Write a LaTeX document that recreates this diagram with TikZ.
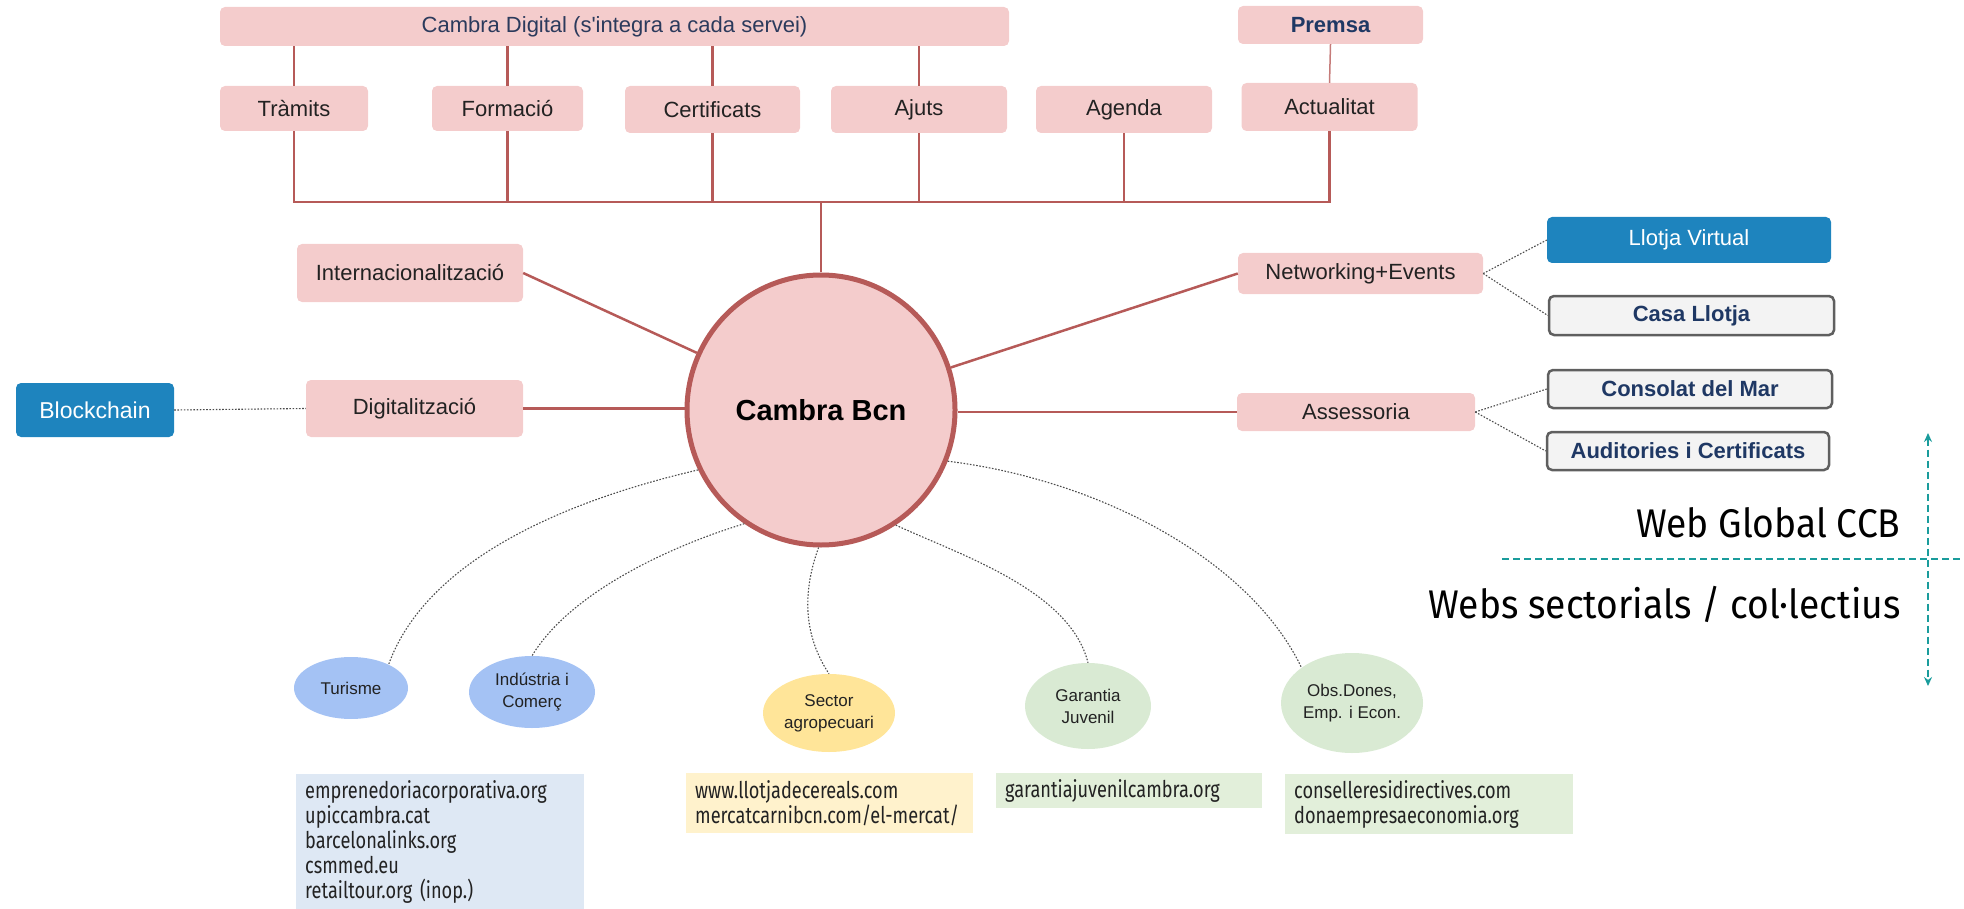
\documentclass[tikz,border=0pt]{standalone}
\usepackage{fontspec}
\setmainfont{Liberation Sans}
\newfontfamily\linkfont{Fira Sans}[FakeStretch=0.79]
\newfontfamily\splitfont{Fira Sans}[FakeStretch=0.93]
\usetikzlibrary{arrows.meta,shapes.geometric}

\definecolor{boxpink}{HTML}{F4CCCC}
\definecolor{linkred}{HTML}{B65A58}
\definecolor{llotjablue}{HTML}{1E84BE}
\definecolor{greyfill}{HTML}{F3F3F3}
\definecolor{greyedge}{HTML}{5F5F5F}
\definecolor{navytext}{HTML}{1F3864}
\definecolor{slatetext}{HTML}{2B3A5C}
\definecolor{textdark}{HTML}{222222}
\definecolor{sectblue}{HTML}{A4C2F4}
\definecolor{sectyellow}{HTML}{FFE599}
\definecolor{sectgreen}{HTML}{D9EAD3}
\definecolor{webblue}{HTML}{DEE8F4}
\definecolor{webyellow}{HTML}{FFF2CC}
\definecolor{webgreen}{HTML}{E2EFDA}
\definecolor{teal}{HTML}{1A9C9C}

\begin{document}
\begin{tikzpicture}[x=1pt, y=-1pt, >=Stealth,
  every node/.style={font=\fontsize{22}{26}\selectfont, text=textdark},
  svc/.style={rectangle, rounded corners=5pt, fill=boxpink, inner sep=0pt},
  bluebox/.style={rectangle, rounded corners=5pt, fill=llotjablue, text=white, inner sep=0pt},
  greybox/.style={rectangle, rounded corners=5pt, fill=greyfill, draw=greyedge,
    line width=2.5pt, text=navytext, font=\bfseries\fontsize{22}{26}\selectfont, inner sep=0pt},
  sector/.style={ellipse, inner sep=0pt, align=center, font=\fontsize{17}{22}\selectfont},
  weblist/.style={rectangle, anchor=north west, align=left, inner xsep=9pt, inner ysep=6pt,
    text=textdark, font=\linkfont\fontsize{23}{25}\selectfont},
  branch/.style={draw=linkred, line width=2.5pt},
  dots/.style={draw=black!70, line width=1.1pt, dash pattern=on 1.6pt off 1.6pt},
  split/.style={draw=teal, line width=2.5pt, dash pattern=on 7pt off 4pt}]

  \useasboundingbox (0,0) rectangle (1964,909);

  % Cambra Digital and the services row
  \node[svc, minimum width=789pt, minimum height=39pt, text=slatetext] (cd) at (614.5,26.5)
    {Cambra Digital (s\textquotesingle integra a cada servei)};
  \node[svc, minimum width=185pt, minimum height=38pt, text=navytext, font=\bfseries\fontsize{22}{26}\selectfont]
    (premsa) at (1330.5,25) {Premsa};
  \node[svc, minimum width=148pt, minimum height=45pt] (tramits) at (294,108.5) {Tràmits};
  \node[svc, minimum width=151pt, minimum height=45pt] (formacio) at (507.5,108.5) {Formació};
  \node[svc, minimum width=175pt, minimum height=47pt] (certif) at (712.5,109.5) {Certificats};
  \node[svc, minimum width=176pt, minimum height=47pt] (ajuts) at (919,109.5) {Ajuts};
  \node[svc, minimum width=176pt, minimum height=47pt] (agenda) at (1124,109.5) {Agenda};
  \node[svc, minimum width=176pt, minimum height=48pt] (actual) at (1329.5,107) {Actualitat};

  % Central node
  \node[ellipse, fill=boxpink, draw=linkred, line width=5pt, minimum width=268pt, minimum height=270pt,
    font=\bfseries\fontsize{29}{34}\selectfont, text=black] (hub) at (821,410) {Cambra Bcn};

  % Left and right branches
  \node[svc, minimum width=226pt, minimum height=58pt] (intl) at (410,273) {Internacionalització};
  \node[svc, minimum width=217pt, minimum height=57pt] (digit) at (414.5,408.5) {Digitalització};
  \node[bluebox, minimum width=158pt, minimum height=54pt, font=\fontsize{23}{27}\selectfont] (block) at (95,410) {Blockchain};
  \node[svc, minimum width=245pt, minimum height=41pt] (net) at (1360.5,273.5) {Networking+Events};
  \node[svc, minimum width=238pt, minimum height=38pt] (assess) at (1356,412) {Assessoria};
  \node[bluebox, minimum width=284pt, minimum height=46pt] (llotjav) at (1689,240) {Llotja Virtual};
  \node[greybox, minimum width=285pt, minimum height=39pt] (casa) at (1691.5,315.5) {Casa Llotja};
  \node[greybox, minimum width=284pt, minimum height=38pt] (consolat) at (1690,389) {Consolat del Mar};
  \node[greybox, minimum width=282pt, minimum height=38pt] (audit) at (1688,451) {Auditories i Certificats};

  % Sectors
  \node[sector, fill=sectblue, minimum width=114pt, minimum height=62pt] (turisme) at (351,688) {Turisme};
  \node[sector, fill=sectblue, minimum width=126pt, minimum height=72pt] (industria) at (532,692) {Indústria i\\Comerç};
  \node[sector, fill=sectyellow, minimum width=132pt, minimum height=78pt] (agro) at (829,713) {Sector\\agropecuari};
  \node[sector, fill=sectgreen, minimum width=126pt, minimum height=86pt] (garantia) at (1088,706) {Garantia\\Juvenil};
  \node[sector, fill=sectgreen, minimum width=142pt, minimum height=100pt] (obs) at (1352,703) {Obs.Dones,\\Emp. i Econ.};

  % Sector webs
  \node[weblist, fill=webblue, text width=270pt, minimum height=135pt] (webind) at (296,774)
    {emprenedoriacorporativa.org\\upiccambra.cat\\barcelonalinks.org\\csmmed.eu\\retailtour.org (inop.)};
  \node[weblist, fill=webyellow, text width=269pt, minimum height=60pt] (webagro) at (686,773)
    {www.llotjadecereals.com\\mercatcarnibcn.com/el-mercat/};
  \node[weblist, fill=webgreen, text width=248pt, minimum height=35pt] (webgar) at (996,773)
    {garantiajuvenilcambra.org};
  \node[weblist, fill=webgreen, text width=270pt, minimum height=59pt] (webobs) at (1285,774)
    {conselleresidirectives.com\\donaempresaeconomia.org};

  % Tree above the hub
  \coordinate (bus) at (821,202);
  \draw[branch] (hub) -- (bus);
  \foreach \n in {tramits,formacio,certif,ajuts,agenda,actual}
    \draw[branch] (\n.south) |- (bus);
  \foreach \n in {tramits,formacio,certif,ajuts}
    \draw[branch] (\n.north) -- (\n.north |- cd.south);
  \draw[draw=linkred!80, line width=1.5pt] (actual.north) -- (premsa.south);

  % Spokes
  \draw[branch] (intl.east) -- (hub);
  \draw[branch] (digit.east) -- (digit.east -| hub.west);
  \draw[branch] (net.west) -- (hub);
  \draw[branch] (assess.west) -- (assess.west -| hub.east);

  % Dotted links
  \draw[dots] (block.east) -- (digit.west);
  \draw[dots] (net.east) -- (llotjav.west);
  \draw[dots] (net.east) -- (casa.west);
  \draw[dots] (assess.east) -- (consolat.west);
  \draw[dots] (assess.east) -- (audit.west);
  \draw[dots] (hub.206) .. controls (590,495) and (430,550) .. (turisme.32);
  \draw[dots] (hub.236) .. controls (690,540) and (575,585) .. (industria.north);
  \draw[dots] (hub.269) .. controls (805,585) and (800,630) .. (agro.north);
  \draw[dots] (hub.303) .. controls (960,555) and (1070,590) .. (garantia.north);
  \draw[dots] (hub.338) .. controls (1100,480) and (1250,560) .. (obs.145);

  % Global / sectorial split
  \coordinate (splittop) at (1928,433);
  \coordinate (splitbot) at (1928,686);
  \coordinate (splitleft) at (1502,559);
  \coordinate (splitright) at (1964,559);
  \draw[split, {Stealth[length=9pt,width=8pt]}-{Stealth[length=9pt,width=8pt]}] (splittop) -- (splitbot);
  \draw[split] (splitleft) -- (splitright);
  \node[anchor=base east, text=black, font=\splitfont\fontsize{40}{48}\selectfont] (global) at (1904,537) {Web Global CCB};
  \node[anchor=base east, text=black, font=\splitfont\fontsize{40}{48}\selectfont] (sectorial) at (1904,618) {Webs sectorials / col·lectius};
\end{tikzpicture}
\end{document}
